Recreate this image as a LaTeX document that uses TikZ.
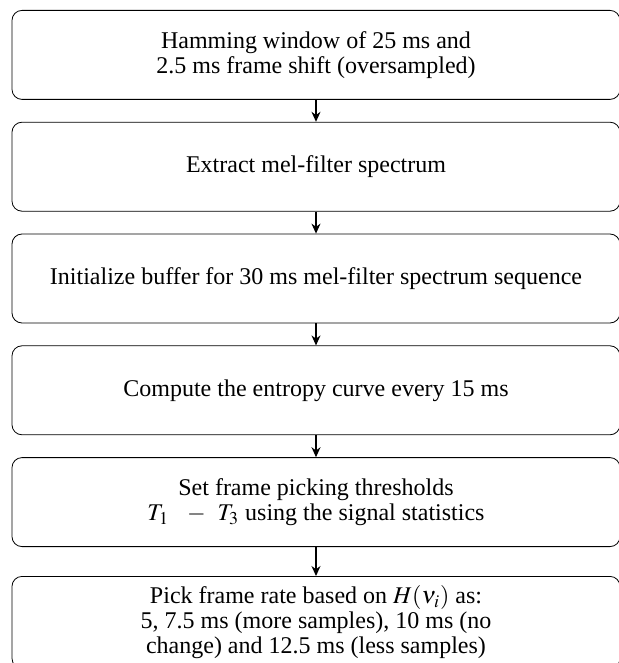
\documentclass[tikz,border=0pt]{standalone}
\usepackage{mathptmx}
\usepackage{fontspec}
\setmainfont{Liberation Serif}
\usetikzlibrary{positioning,arrows.meta}

\begin{document}
\begin{tikzpicture}[
		procbox/.style={draw,rounded corners=5pt,minimum width=304pt,minimum height=44.5pt,align=center,font=\fontsize{12pt}{12.5pt}\selectfont},
		flowarrow/.style={-{Stealth[length=5pt,width=4.5pt]},semithick}
	]
		\useasboundingbox (0,0) rectangle (309.5pt,-331.5pt);

		\node[procbox,anchor=north] (hamming) at (158pt,-5pt) {Hamming window of 25 ms and\\2.5 ms frame shift (oversampled)};
		\node[procbox,below=11pt of hamming] (melspec) {Extract mel-filter spectrum};
		\node[procbox,below=11pt of melspec] (buffer) {Initialize buffer for 30 ms mel-filter spectrum sequence};
		\node[procbox,below=11pt of buffer] (entropy) {Compute the entropy curve every 15 ms};
		\node[procbox,below=11pt of entropy] (thresh) {Set frame picking thresholds\\$T_1$ \enspace$-$\enspace $T_3$ using the signal statistics};
		\node[procbox,below=14.5pt of thresh,minimum height=46pt] (pickrate) {Pick frame rate based on $H(\nu_i)$ as:\\5, 7.5 ms (more samples), 10 ms (no\\change) and 12.5 ms (less samples)};

		\draw[flowarrow] (hamming) -- (melspec);
		\draw[flowarrow] (melspec) -- (buffer);
		\draw[flowarrow] (buffer) -- (entropy);
		\draw[flowarrow] (entropy) -- (thresh);
		\draw[flowarrow] (thresh) -- (pickrate);
	\end{tikzpicture}
\end{document}
